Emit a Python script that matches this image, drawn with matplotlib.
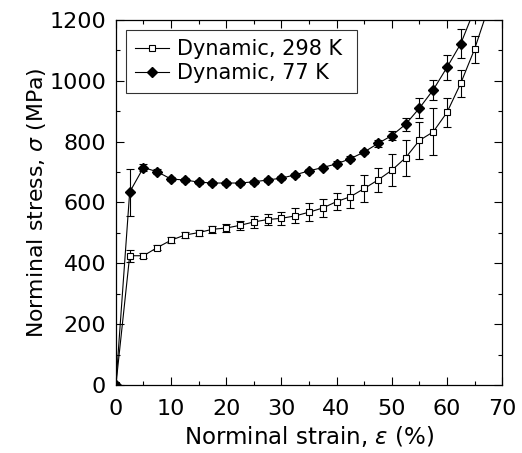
import matplotlib
matplotlib.use("Agg")
import matplotlib.pyplot as plt
from matplotlib.ticker import MultipleLocator

plt.rcParams['font.family'] = ['DejaVu Sans']
plt.rcParams['mathtext.fontset'] = 'dejavusans'

# strain (%) for each measured point, the last one runs off the top of the axes
strain_298 = [0, 2.5, 5, 7.5, 10, 12.5, 15, 17.5, 20, 22.5, 25, 27.5, 30, 32.5,
              35, 37.5, 40, 42.5, 45, 47.5, 50, 52.5, 55, 57.5, 60, 62.5, 65, 67.5]
stress_298 = [0, 425, 425, 452, 476, 493, 501, 512, 516, 525, 536, 544, 548, 556,
              568, 582, 603, 619, 646, 674, 706, 747, 804, 832, 896, 992, 1104, 1240]
err_298 = [0, 19, 8, 8, 10, 10, 10, 12, 14, 15, 20, 19, 22, 25,
           29, 30, 28, 38, 45, 40, 52, 60, 61, 77, 48, 45, 44, 0]

strain_77 = [0, 2.5, 5, 7.5, 10, 12.5, 15, 17.5, 20, 22.5, 25, 27.5, 30, 32.5,
             35, 37.5, 40, 42.5, 45, 47.5, 50, 52.5, 55, 57.5, 60, 62.5, 65]
stress_77 = [0, 634, 715, 701, 677, 674, 667, 664, 664, 664, 668, 674, 680, 691,
             704, 715, 727, 744, 766, 794, 820, 857, 910, 970, 1044, 1122, 1235]
err_77 = [0, 77, 10, 8, 8, 6, 6, 6, 6, 6, 6, 6, 6, 6,
          6, 6, 8, 8, 8, 10, 15, 22, 32, 33, 40, 48, 0]

fig = plt.figure(figsize=(5.22, 4.53), dpi=100)
ax = fig.add_axes([0.222, 0.150, 0.740, 0.806])

e298 = ax.errorbar(strain_298, stress_298, yerr=err_298, color='black', lw=0.8,
                   marker='s', ms=5, mfc='white', mec='black', mew=0.8,
                   elinewidth=0.8, capsize=3, capthick=0.8)
e77 = ax.errorbar(strain_77, stress_77, yerr=err_77, color='black', lw=0.8,
                  marker='D', ms=5.5, mfc='black', mec='black',
                  elinewidth=0.8, capsize=3, capthick=0.8)

ax.set_xlim(0, 70)
ax.set_ylim(0, 1200)
ax.xaxis.set_major_locator(MultipleLocator(10))
ax.xaxis.set_minor_locator(MultipleLocator(5))
ax.yaxis.set_major_locator(MultipleLocator(200))
ax.yaxis.set_minor_locator(MultipleLocator(100))
ax.tick_params(which='both', direction='in', top=True, right=True, width=0.8,
               labelsize=16)
ax.tick_params(which='major', length=6)
ax.tick_params(which='minor', length=3)
ax.tick_params(axis='x', pad=10)
ax.tick_params(axis='y', pad=7)
for s in ax.spines.values():
    s.set_linewidth(0.9)

ax.set_xlabel(r'Norminal strain, $\varepsilon$ (%)', fontsize=16.5, labelpad=4)
ax.set_ylabel(r'Norminal stress, $\sigma$ (MPa)', fontsize=15.8, labelpad=1)

leg = ax.legend([e298[0], e77[0]], ['Dynamic, 298 K', 'Dynamic, 77 K'],
                loc='upper left', bbox_to_anchor=(0.026, 0, 0.598, 0.973),
                mode='expand', borderaxespad=0,
                fontsize=15, frameon=True, fancybox=False,
                edgecolor='black', handlelength=1.6,
                handletextpad=0.4, borderpad=0.45, labelspacing=0.2,
                numpoints=1)
leg.get_frame().set_linewidth(0.8)

fig.savefig('out.png', dpi=100)
